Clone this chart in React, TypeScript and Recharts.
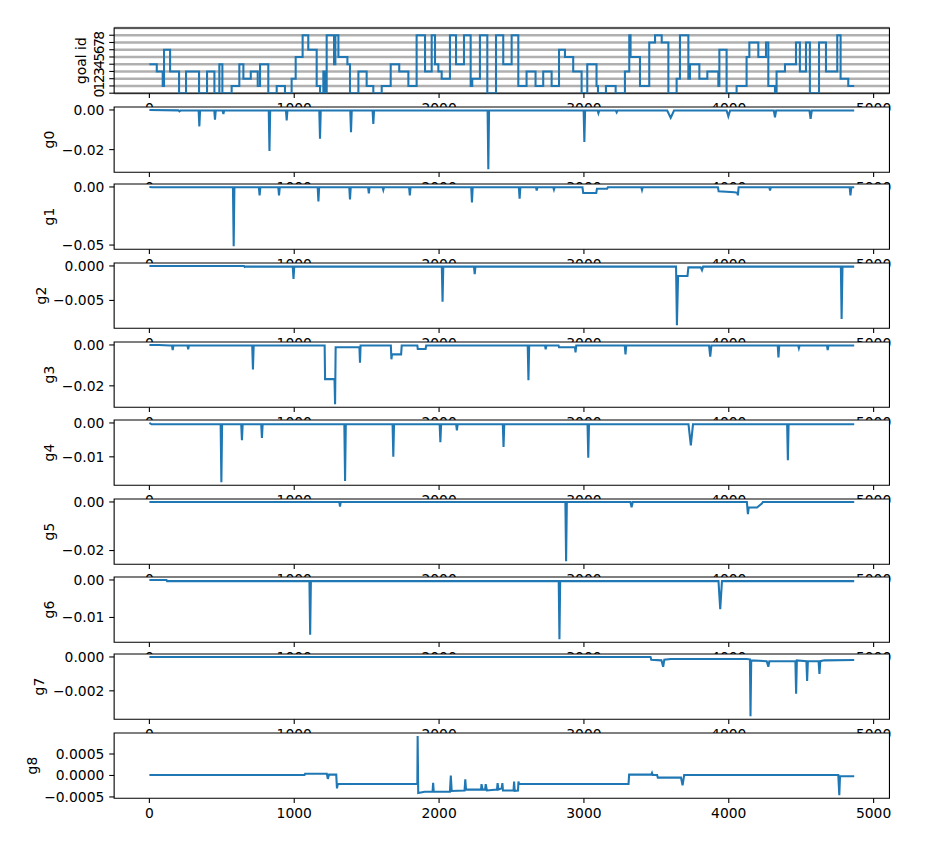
import React from 'react';
import { LineChart, Line, XAxis, YAxis, CartesianGrid, ReferenceArea } from 'recharts';

const FONT = 'DejaVu Sans';
const BLUE = '#1f77b4';
const X_TICKS = [0, 1000, 2000, 3000, 4000, 5000];
const GOAL_TICKS = [0, 1, 2, 3, 4, 5, 6, 7, 8];

type P = [number, number];

// goal id: step value starting at x
const goalSteps: P[] = [
  [0, 4], [51, 3], [92, 1], [101, 6], [143, 3], [205, 0], [253, 3], [343, 0], [398, 3], [449, 0],
  [483, 4], [504, 0], [568, 1], [621, 4], [649, 2], [700, 3], [748, 1], [764, 4], [821, 0], [879, 1],
  [936, 0], [982, 2], [1010, 5], [1058, 8], [1097, 6], [1155, 1], [1178, 0], [1201, 3], [1213, 0], [1224, 8],
  [1275, 4], [1284, 8], [1305, 5], [1367, 4], [1385, 0], [1443, 3], [1500, 1], [1546, 0], [1604, 1], [1666, 4],
  [1725, 3], [1788, 1], [1845, 8], [1903, 3], [1949, 8], [1972, 4], [1995, 3], [2018, 2], [2075, 8], [2117, 4],
  [2172, 8], [2218, 1], [2229, 2], [2282, 8], [2333, 0], [2393, 8], [2443, 4], [2501, 8], [2547, 1], [2604, 3],
  [2666, 1], [2719, 3], [2777, 1], [2828, 6], [2869, 5], [2926, 3], [2984, 0], [3023, 4], [3087, 1], [3097, 0],
  [3152, 1], [3219, 0], [3283, 3], [3313, 8], [3322, 5], [3387, 1], [3451, 7], [3491, 8], [3537, 7], [3583, 0],
  [3640, 2], [3663, 8], [3721, 2], [3732, 4], [3797, 2], [3852, 3], [3928, 1], [3935, 6], [3985, 0], [4054, 1],
  [4123, 5], [4142, 7], [4204, 5], [4257, 7], [4273, 1], [4319, 0], [4330, 3], [4388, 4], [4464, 7], [4491, 3],
  [4533, 7], [4560, 0], [4623, 7], [4671, 3], [4749, 8], [4772, 2], [4825, 1], [4866, 1],
];

const g0: P[] = [
  [0, 0], [200, -0.0002], [207, -0.0007], [214, -0.0003], [340, -0.0003], [345, -0.0083], [350, -0.0003],
  [448, -0.0003], [453, -0.0049], [458, -0.0003], [506, -0.0003], [511, -0.002], [516, -0.0003],
  [824, -0.0003], [829, -0.0207], [834, -0.0003], [943, -0.0003], [948, -0.0053], [953, -0.0003],
  [1173, -0.0003], [1178, -0.0145], [1183, -0.0003], [1387, -0.0003], [1392, -0.0112], [1397, -0.0003],
  [1541, -0.0003], [1546, -0.007], [1551, -0.0003], [2335, -0.0003], [2340, -0.0299], [2345, -0.0003],
  [2998, -0.0003], [3003, -0.0162], [3008, -0.0003], [3094, -0.0003], [3100, -0.0017], [3106, -0.0003],
  [3220, -0.0003], [3226, -0.0012], [3232, -0.0003], [3575, -0.0003], [3599, -0.004], [3622, -0.0003],
  [3985, -0.0003], [3997, -0.0032], [4009, -0.0003], [4311, -0.0003], [4319, -0.0037], [4327, -0.0003],
  [4557, -0.0003], [4565, -0.0045], [4573, -0.0003], [4866, -0.0003],
];

const g1: P[] = [
  [0, 0], [20, -0.0003], [577, -0.0003], [582, -0.051], [587, -0.0003], [756, -0.0003], [761, -0.0072], [766, -0.0003],
  [890, -0.0003], [895, -0.0072], [900, -0.0003], [1162, -0.0003], [1167, -0.0124], [1172, -0.0003],
  [1380, -0.0003], [1385, -0.0107], [1390, -0.0003], [1510, -0.0003], [1515, -0.0055], [1520, -0.0003],
  [1610, -0.0003], [1615, -0.0026], [1620, -0.0003], [1793, -0.0003], [1798, -0.0072], [1803, -0.0003],
  [2222, -0.0003], [2227, -0.0133], [2232, -0.0003], [2551, -0.0003], [2556, -0.0101], [2561, -0.0003],
  [2669, -0.0003], [2674, -0.003], [2679, -0.0003], [2788, -0.0003], [2793, -0.0023], [2798, -0.0003],
  [2990, -0.0003], [2995, -0.0052], [3085, -0.0052], [3090, -0.0015], [3160, -0.0015], [3165, -0.0003],
  [3396, -0.0003], [3401, -0.0026], [3406, -0.0003], [3925, -0.0003], [3930, -0.0038], [4040, -0.0045],
  [4058, -0.005], [4063, -0.0072], [4068, -0.0003], [4280, -0.0003], [4285, -0.003], [4290, -0.0003],
  [4835, -0.0003], [4840, -0.0072], [4846, -0.0003], [4866, -0.0003],
];

const g2: P[] = [
  [0, 0], [653, 0], [658, -0.00015], [663, -0.0001], [990, -0.0001], [995, -0.0019], [1000, -0.0001],
  [2019, -0.0001], [2024, -0.0052], [2029, -0.0001], [2241, -0.0001], [2246, -0.0012], [2251, -0.0001],
  [3636, -0.0001], [3642, -0.0086], [3650, -0.00146], [3715, -0.00146], [3721, -0.0002], [3806, -0.0002],
  [3815, -0.0006], [3823, -0.0001], [4774, -0.0001], [4779, -0.0077], [4785, -0.0001], [4866, -0.0001],
];

const g3: P[] = [
  [0, 0], [65, 0], [140, -0.0003], [156, -0.0003], [161, -0.0025], [166, -0.0003], [263, -0.0003], [268, -0.0021],
  [273, -0.0003], [710, -0.0003], [715, -0.012], [720, -0.0003], [1210, -0.0003], [1213, -0.0167],
  [1278, -0.0167], [1282, -0.029], [1286, -0.0011], [1450, -0.0011], [1454, -0.0087], [1458, -0.0003],
  [1667, -0.0003], [1671, -0.007], [1675, -0.0046], [1738, -0.0046], [1742, -0.0003], [1850, -0.0003],
  [1853, -0.002], [1907, -0.002], [1911, -0.0003], [2612, -0.0003], [2617, -0.0172], [2622, -0.0003],
  [2731, -0.0003], [2736, -0.0021], [2741, -0.0003], [2825, -0.0003], [2828, -0.0011], [2938, -0.0011],
  [2942, -0.0036], [2947, -0.0003], [3282, -0.0003], [3287, -0.0046], [3292, -0.0003], [3864, -0.0003],
  [3872, -0.0057], [3880, -0.0003], [4338, -0.0003], [4343, -0.0061], [4348, -0.0003], [4479, -0.0003],
  [4484, -0.0016], [4489, -0.0003], [4678, -0.0003], [4683, -0.0025], [4688, -0.0003], [4866, -0.0003],
];

const g4: P[] = [
  [0, 0], [15, -0.0004], [492, -0.0004], [497, -0.0175], [502, -0.0004], [634, -0.0004], [639, -0.0051],
  [644, -0.0004], [772, -0.0004], [777, -0.0044], [782, -0.0004], [1346, -0.0004], [1351, -0.0171],
  [1356, -0.0004], [1679, -0.0004], [1684, -0.01], [1689, -0.0004], [2004, -0.0004], [2009, -0.0057],
  [2014, -0.0004], [2118, -0.0004], [2123, -0.0022], [2128, -0.0004], [2440, -0.0004], [2445, -0.0071],
  [2450, -0.0004], [3025, -0.0004], [3030, -0.0103], [3035, -0.0004], [3722, -0.0004], [3738, -0.0066],
  [3753, -0.0004], [4403, -0.0004], [4408, -0.011], [4413, -0.0004], [4866, -0.0004],
];

const g5: P[] = [
  [0, 0], [1311, 0], [1316, -0.0019], [1321, 0], [2872, 0], [2877, -0.0244], [2882, 0], [3321, 0],
  [3329, -0.0022], [3337, 0], [4125, 0], [4132, -0.005], [4138, -0.0023], [4195, -0.0023], [4228, -0.0007],
  [4235, 0], [4866, 0],
];

const g6: P[] = [
  [0, 0], [118, 0], [122, -0.0003], [1105, -0.0003], [1110, -0.0146], [1115, -0.0003], [2826, -0.0003],
  [2831, -0.0158], [2836, -0.0003], [3929, -0.0003], [3941, -0.0078], [3953, -0.0003], [4866, -0.0003],
];

const g7: P[] = [
  [0, 0], [3460, 0], [3465, -0.00016], [3535, -0.0002], [3547, -0.00058], [3555, -0.00016], [3600, -0.00012],
  [4121, -0.00012], [4146, -0.00014], [4150, -0.0035], [4155, -0.0002], [4262, -0.00025], [4273, -0.00058],
  [4280, -0.00025], [4460, -0.00025], [4465, -0.00217], [4470, -0.0002], [4536, -0.00025], [4541, -0.00142],
  [4546, -0.00025], [4620, -0.00025], [4626, -0.001], [4632, -0.00025], [4660, -0.0002], [4866, -0.00018],
];

const g8: P[] = [
  [0, 0.00001], [1071, 0.00001], [1075, 0.00004], [1225, 0.00004], [1232, -0.00008], [1240, 0.00002],
  [1290, 0.00002], [1295, -0.0003], [1301, -0.0002], [1850, -0.0002], [1852, 0.00092], [1856, -0.00041],
  [1900, -0.00038], [1955, -0.00038], [1959, -0.00017], [1963, -0.00038], [2075, -0.00038], [2081, 0.0],
  [2087, -0.00036], [2176, -0.00035], [2181, -0.00009], [2186, -0.00033], [2290, -0.00033], [2293, -0.0002],
  [2300, -0.00033], [2318, -0.00033], [2322, -0.0002], [2330, -0.00035], [2400, -0.00033], [2404, -0.00018],
  [2410, -0.00033], [2432, -0.0003], [2437, -0.00018], [2441, -0.00035], [2514, -0.00035], [2518, -0.00014],
  [2522, -0.00036], [2545, -0.00035], [2548, -0.00014], [2552, -0.0002], [3308, -0.0002], [3312, 0.00002],
  [3465, 0.00002], [3470, 0.00006], [3475, 0.00001], [3505, 0.00001], [3510, -0.00005], [3670, -0.00005],
  [3681, -0.00023], [3692, 0.00001], [4756, 0.00001], [4763, -0.00046], [4768, -0.00002], [4866, -0.00002],
];

const PANELS = [
  { label: 'goal id', pairs: goalSteps, ticks: GOAL_TICKS, dec: 0, labelX: 81, goal: true },
  { label: 'g0', pairs: g0, ticks: [-0.02, 0], dec: 2, labelX: 49 },
  { label: 'g1', pairs: g1, ticks: [-0.05, 0], dec: 2, labelX: 49 },
  { label: 'g2', pairs: g2, ticks: [-0.005, 0], dec: 3, labelX: 41 },
  { label: 'g3', pairs: g3, ticks: [-0.02, 0], dec: 2, labelX: 49 },
  { label: 'g4', pairs: g4, ticks: [-0.01, 0], dec: 2, labelX: 49 },
  { label: 'g5', pairs: g5, ticks: [-0.02, 0], dec: 2, labelX: 49 },
  { label: 'g6', pairs: g6, ticks: [-0.01, 0], dec: 2, labelX: 49 },
  { label: 'g7', pairs: g7, ticks: [-0.002, 0], dec: 3, labelX: 39 },
  { label: 'g8', pairs: g8, ticks: [-0.0005, 0, 0.0005], dec: 4, labelX: 32 },
];

const PANEL_TOPS = [28.3, 106.7, 184.3, 263.3, 341.7, 420, 499, 576.7, 654.3, 733.3];
const AX_LEFT = 114.1;
const AX_RIGHT = 889.5;
const AX_H = 65.2;
const MT = 10;
const XH = 40;
const W = 938;

const X_MIN = 0;
const X_MAX = 4866;
const X_DOM: [number, number] = [X_MIN - 0.05 * (X_MAX - X_MIN), X_MAX + 0.05 * (X_MAX - X_MIN)];

const tickStyle = { fill: '#000', fontSize: 13.9, fontFamily: FONT };
const tickLineStyle = { stroke: '#000', strokeWidth: 1.1 };

function RotTick(props: any) {
  const { x, y, payload } = props;
  const bx = x;
  return (
    <text
      x={bx}
      y={y}
      transform={`rotate(-90 ${bx} ${y})`}
      textAnchor="middle"
      fill="#000"
      fontSize={13.9}
      fontFamily={FONT}
    >
      {payload.value}
    </text>
  );
}

function Panel({ idx }: { idx: number }) {
  const cfg: any = PANELS[idx];
  const top = PANEL_TOPS[idx];
  const data = cfg.pairs.map(([x, y]: P) => ({ x, y }));
  let yDom: [number, number];
  if (cfg.goal) {
    yDom = [0, 9];
  } else {
    const ys = cfg.pairs.map((p: P) => p[1]);
    const mn = Math.min(...ys);
    const mx = Math.max(...ys);
    const r = mx - mn;
    yDom = [mn - 0.05 * r, mx + 0.05 * r];
  }
  const fmt = (v: number) =>
    cfg.goal ? String(v) : (v < 0 ? '\u2212' : '') + Math.abs(v).toFixed(cfg.dec);
  const labelFn = () => (
    <text
      x={cfg.labelX}
      y={MT + AX_H / 2}
      transform={`rotate(-90 ${cfg.labelX} ${MT + AX_H / 2})`}
      textAnchor="middle"
      dominantBaseline="central"
      fill="#000"
      fontSize={13.9}
      fontFamily={FONT}
    >
      {cfg.label}
    </text>
  );
  return (
    <div style={{ position: 'absolute', left: 0, top: top - MT }}>
      <LineChart
        width={W}
        height={MT + AX_H + XH}
        data={data}
        margin={{ top: MT, right: W - AX_RIGHT, bottom: 0, left: 0 }}
      >
        <CartesianGrid
          fill="#fff"
          vertical={false}
          horizontal={!!cfg.goal}
          stroke="#b0b0b0"
          strokeWidth={2.6}
        />
        <XAxis
          type="number"
          dataKey="x"
          domain={X_DOM}
          ticks={X_TICKS}
          allowDataOverflow
          interval={0}
          height={XH}
          axisLine={false}
          tickSize={4.9}
          tickMargin={4.9}
          tickLine={tickLineStyle}
          tick={tickStyle}
        />
        <YAxis
          type="number"
          domain={yDom}
          ticks={cfg.ticks}
          allowDataOverflow
          interval={0}
          width={AX_LEFT}
          axisLine={false}
          tickSize={4.9}
          tickMargin={4.9}
          tickLine={tickLineStyle}
          tick={cfg.goal ? RotTick : tickStyle}
          tickFormatter={fmt}
          label={labelFn}
        />
        <Line
          type={cfg.goal ? 'stepAfter' : 'linear'}
          dataKey="y"
          stroke={BLUE}
          strokeWidth={2.08}
          dot={false}
          isAnimationActive={false}
        />
        <ReferenceArea
          x1={X_DOM[0]}
          x2={X_DOM[1]}
          y1={yDom[0]}
          y2={yDom[1]}
          fill="none"
          stroke="#000"
          strokeWidth={1.1}
          ifOverflow="visible"
        />
      </LineChart>
    </div>
  );
}

export default function App() {
  return (
    <div
      style={{
        position: 'absolute',
        left: 0,
        top: 0,
        width: W,
        height: 853,
        background: '#fff',
        overflow: 'hidden',
      }}
    >
      {PANELS.map((_, i) => (
        <Panel key={i} idx={i} />
      ))}
    </div>
  );
}
